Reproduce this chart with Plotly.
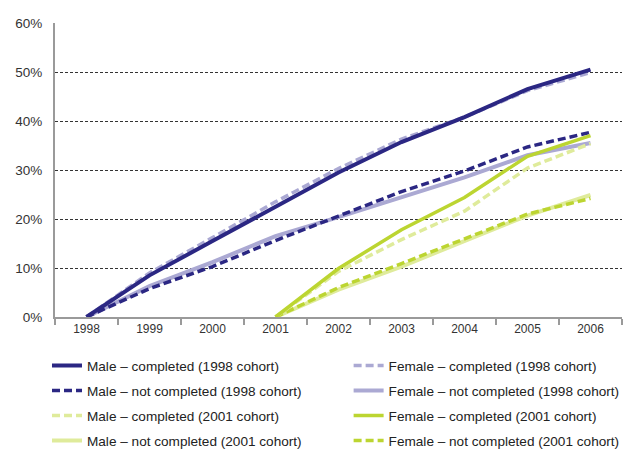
import plotly.graph_objects as go

years = ["1998", "1999", "2000", "2001", "2002", "2003", "2004", "2005", "2006"]

male_completed_1998 = [0, 8.5, 15.5, 22.5, 29.5, 35.7, 40.8, 46.5, 50.5]
female_completed_1998 = [0, 9.0, 16.2, 23.5, 30.3, 36.3, 40.8, 46.2, 49.9]
male_not_completed_1998 = [0, 5.8, 10.3, 15.6, 20.6, 25.6, 29.8, 34.7, 37.7]
female_not_completed_1998 = [0, 6.3, 11.2, 16.5, 20.4, 24.4, 28.5, 33.0, 35.5]
male_completed_2001 = [None, None, None, 0, 9.3, 15.8, 21.6, 30.4, 35.4]
female_completed_2001 = [None, None, None, 0, 9.9, 17.8, 24.4, 32.8, 37.0]
male_not_completed_2001 = [None, None, None, 0, 5.6, 10.3, 15.5, 20.7, 24.9]
female_not_completed_2001 = [None, None, None, 0, 6.0, 10.9, 16.0, 21.0, 24.2]

names = [
    "Male – completed (1998 cohort)",
    "Female – completed (1998 cohort)",
    "Male – not completed (1998 cohort)",
    "Female – not completed (1998 cohort)",
    "Male – completed (2001 cohort)",
    "Female – completed (2001 cohort)",
    "Male – not completed (2001 cohort)",
    "Female – not completed (2001 cohort)",
]
series = [
    male_completed_1998, female_completed_1998,
    male_not_completed_1998, female_not_completed_1998,
    male_completed_2001, female_completed_2001,
    male_not_completed_2001, female_not_completed_2001,
]

NAVY = "#2B2783"
LAV = "#ABA9D3"
LIGHTG = "#DFEB9B"
GREEN = "#BCD531"
DASH = "8px,4px"
styles = [
    (NAVY, "solid", 4, "legend"),
    (LAV, DASH, 3.5, "legend2"),
    (NAVY, DASH, 3.5, "legend"),
    (LAV, "solid", 4, "legend2"),
    (LIGHTG, DASH, 3.5, "legend"),
    (GREEN, "solid", 3.5, "legend2"),
    (LIGHTG, "solid", 4, "legend"),
    (GREEN, DASH, 3.5, "legend2"),
]

order = [3, 2, 1, 0, 6, 7, 4, 5]

fig = go.Figure()
for i in order:
    color, dash, w, leg = styles[i]
    fig.add_trace(go.Scatter(
        x=years, y=series[i], name=names[i], mode="lines",
        line=dict(color=color, dash=dash, width=w),
        legend=leg, legendrank=i, legendgroup=str(i),
    ))

FONT = "Liberation Sans, Arial, sans-serif"
legend_common = dict(
    orientation="v", yanchor="top", y=0.2235, xanchor="left",
    xref="container", yref="container",
    font=dict(family=FONT, size=13.6, color="#222222"),
    bgcolor="rgba(0,0,0,0)", tracegroupgap=4.3, itemwidth=30,
    traceorder="grouped",
)

fig.update_layout(
    width=635, height=451,
    margin=dict(l=55, r=13, t=23, b=134, autoexpand=False),
    plot_bgcolor="white", paper_bgcolor="white",
    font=dict(family=FONT, size=12, color="#333333"),
    legend=dict(x=0.074, **legend_common),
    legend2=dict(x=0.549, **legend_common),
    xaxis=dict(
        type="category", tickson="boundaries", ticks="outside", ticklen=6,
        tickwidth=2, tickcolor="#9A9A9A", showline=True, linecolor="#9A9A9A",
        linewidth=2, showgrid=False, tickfont=dict(size=12, color="#333333"),
        range=[-0.5, 8.5],
    ),
    yaxis=dict(
        range=[0, 60], dtick=10, ticksuffix="%", showline=True,
        linecolor="#9A9A9A", linewidth=2, ticks="", showgrid=True,
        gridcolor="#333333", gridwidth=1, griddash="3px,2px", zeroline=False,
        tickfont=dict(size=13.5, color="#333333"), ticklabelstandoff=8,
    ),
    showlegend=True,
)

fig.write_html(
    "out.html",
    config={"displayModeBar": False},
    post_script="document.body.style.margin='0';document.body.style.padding='0';",
)
